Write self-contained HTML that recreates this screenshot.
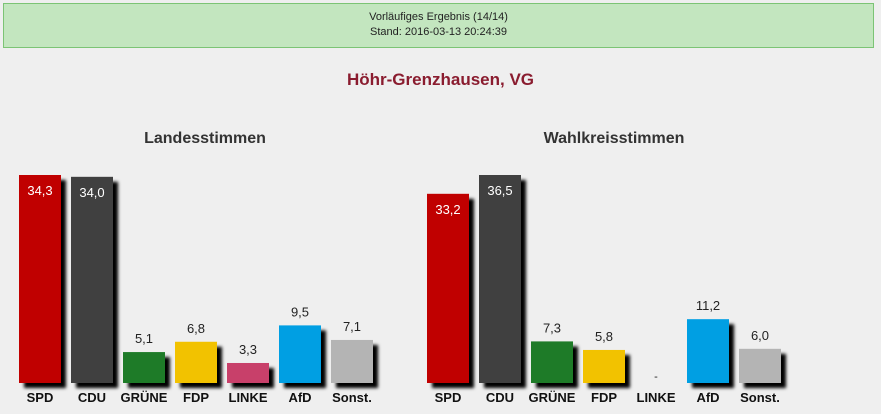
<!DOCTYPE html>
<html><head><meta charset="utf-8">
<style>
body{margin:0;width:881px;height:414px;background:#efefef;font-family:"Liberation Sans",Arial,sans-serif;overflow:hidden;position:relative}
#hdr{position:absolute;left:3px;top:3px;width:871px;height:45px;background:#c3e6bf;border:1px solid #7cc475;text-align:center;font-size:11px;color:#222;line-height:15px;padding-top:6px;box-sizing:border-box}
#title{position:absolute;left:0;width:881px;top:70px;text-align:center;font-size:17px;font-weight:bold;color:#8a1c2f}
svg{position:absolute;left:0;top:0}
</style></head><body>
<div id="hdr">Vorläufiges Ergebnis (14/14)<br>Stand: 2016-03-13 20:24:39</div>
<div id="title">Höhr-Grenzhausen, VG</div>
<svg id="chart" width="881" height="414">
<defs><filter id="sh" x="-20%" y="-20%" width="160%" height="160%"><feGaussianBlur in="SourceAlpha" stdDeviation="1.5"/><feOffset dx="5" dy="5"/></filter></defs>
</svg>
<script>
const parties = ["SPD","CDU","GRÜNE","FDP","LINKE","AfD","Sonst."];
const colors = ["#c00000","#404040","#1e7b28","#f2c200","#c8406a","#009fe3","#b4b4b4"];
const landesValues = [34.3,34.0,5.1,6.8,3.3,9.5,7.1];
const wahlkreisValues = [33.2,36.5,7.3,5.8,null,11.2,6.0];
const chartTitles = ["Landesstimmen","Wahlkreisstimmen"];

const svg = document.getElementById('chart');
const NS = "http://www.w3.org/2000/svg";
const baseY = 383, maxH = 208, barW = 42, step = 52;
function fmt(v){ return v.toFixed(1).replace('.',','); }
function mk(tag, attrs, txt){
  const e = document.createElementNS(NS, tag);
  for (const k in attrs) e.setAttribute(k, attrs[k]);
  if (txt !== undefined) e.textContent = txt;
  svg.appendChild(e); return e;
}
function drawChart(values, x0, titleX, title, key){
  const maxV = Math.max(...values.filter(v=>v!==null));
  const yPos = v => baseY - v*maxH/maxV;
  const t = mk('text',{x:titleX,y:143,'text-anchor':'middle','font-size':16,'font-weight':'bold',fill:'#333'},title);
  
  
  values.forEach((v,i)=>{
    const x = x0 + i*step, cx = x + barW/2;
    if (v !== null){
      const top = yPos(v), h = baseY - top;
      const s = mk('rect',{x:x,y:top,width:barW,height:h,fill:'#000',filter:'url(#sh)'});
      
      
      const b = mk('rect',{x:x,y:top,width:barW,height:h,fill:colors[i]});
      
      
      const inside = v > 20;
      const l = mk('text',{x:cx,y:inside? top+20 : top-9,'text-anchor':'middle','font-size':13,fill:inside?'#fff':'#222'},fmt(v));
      
      
    } else {
      const l = mk('text',{x:cx,y:baseY-3,'text-anchor':'middle','font-size':11,fill:'#222'},'-');
      
      
    }
    const c = mk('text',{x:cx,y:402,'text-anchor':'middle','font-size':13,'font-weight':'bold',fill:'#111'},parties[i]);
    
    
  });
}
drawChart(landesValues, 19, 205, chartTitles[0], 'landes');
drawChart(wahlkreisValues, 427, 614, chartTitles[1], 'wahlkreis');
</script>
</body></html>
